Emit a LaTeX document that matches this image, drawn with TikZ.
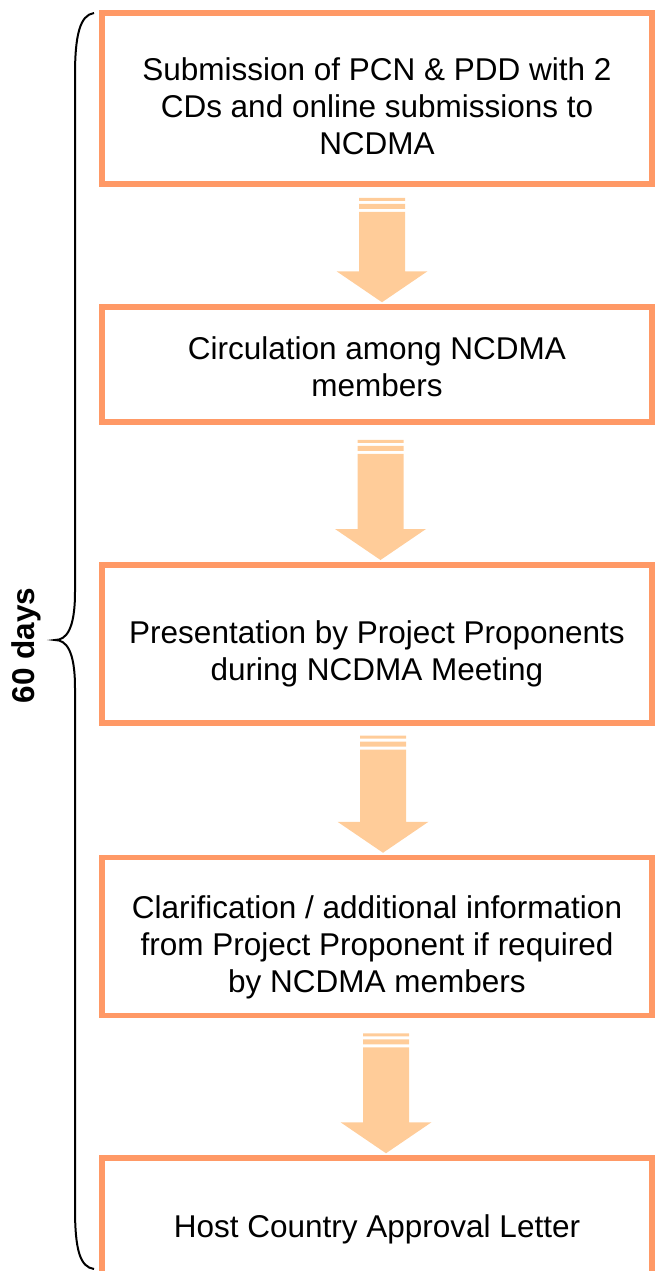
\documentclass[tikz,border=0pt]{standalone}
\usepackage{fontspec}
\setmainfont{Liberation Sans}
\usetikzlibrary{calc, positioning}
\definecolor{boxline}{RGB}{255,153,102}
\definecolor{flowfill}{RGB}{255,204,153}
\tikzstyle{stage} = [rectangle, minimum width=550pt, draw=boxline, line width=5.5pt, fill=white]
\tikzstyle{stagetext} = [align=center, inner sep=0pt, font=\fontsize{31.5}{37}\selectfont]
\tikzstyle{flow} = [fill=flowfill]
% block arrow with two bars on top: from, to, x offset, gap below the box
\newcommand{\stageflow}[4]{%
  \path[flow] let \p1 = ($(#1.south)+(#3,#4)$), \p2 = ($(#2.north)+(#3,-2)$) in
    (\x1-23pt,\y1) rectangle (\x1+23pt,\y1-3pt)
    (\x1-23pt,\y1-6pt) rectangle (\x1+23pt,\y1-11pt)
    (\x1-23pt,\y1-14pt) -- (\x1-23pt,\y2+31pt) -- (\x1-45.5pt,\y2+31pt) -- (\x1,\y2)
    -- (\x1+45.5pt,\y2+31pt) -- (\x1+23pt,\y2+31pt) -- (\x1+23pt,\y1-14pt) -- cycle;}

\begin{document}
\begin{tikzpicture}[x=1pt, y=-1pt]
    \useasboundingbox (0,0) rectangle (654,1271);

    \node (s1) [stage, minimum height=171pt] at (377,98.5) {};
    \node (s2) [stage, minimum height=115pt] at (377,364.5) {};
    \node (s3) [stage, minimum height=158pt] at (377,643.75) {};
    \node (s4) [stage, minimum height=158pt] at (377,936.5) {};
    \node (s5) [stage, minimum height=122pt] at (377,1219) {};

    \node (t1) [stagetext] at ([yshift=-8pt]s1.center) {Submission of PCN \& PDD with 2\\CDs and online submissions to\\NCDMA};
    \node (t2) [stagetext] at ([yshift=-2pt]s2.center) {Circulation among NCDMA\\members};
    \node (t3) [stagetext] at ([yshift=-10pt]s3.center) {Presentation by Project Proponents\\during NCDMA Meeting};
    \node (t4) [stagetext] at ([yshift=-11pt]s4.center) {Clarification / additional information\\from Project Proponent if required\\by NCDMA members};
    \node (t5) [stagetext] at ([yshift=-10pt]s5.center) {Host Country Approval Letter};

    \stageflow{s1}{s2}{5}{11}
    \stageflow{s2}{s3}{3.5}{15}
    \stageflow{s3}{s4}{6}{10}
    \stageflow{s4}{s5}{9}{15}

    % brace over the whole procedure
    \draw [line width=2pt] (94,13) .. controls (80,15) and (75,35) .. (75,75) -- (75,592)
        .. controls (75,630) and (66,640) .. (55,640) .. controls (66,640) and (75,650) .. (75,688)
        -- (75,1208) .. controls (75,1250) and (80,1267) .. (94,1269);
    \node (days) [rotate=90, font=\fontsize{31.5}{37}\selectfont\bfseries] at (26.5,645.5) {60 days};
\end{tikzpicture}
\end{document}
